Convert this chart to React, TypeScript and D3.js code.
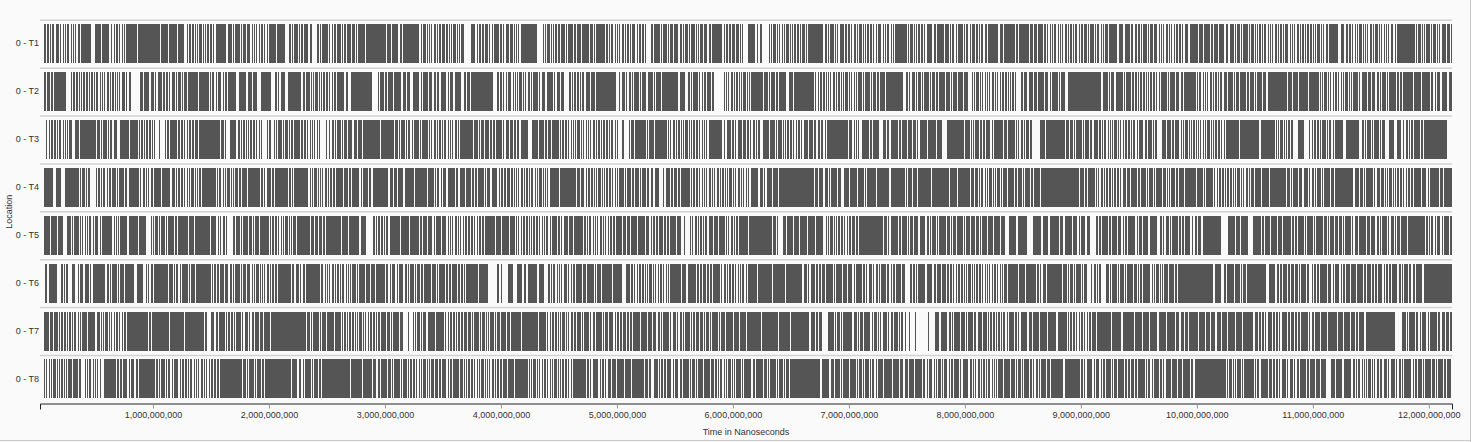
import React, { useEffect, useRef } from 'react';
import * as d3 from 'd3';

// run lengths are busy / idle durations in units of 10,000,000 ns, alternating
const UNIT = 1e7;

const locations = ['0 - T1', '0 - T2', '0 - T3', '0 - T4', '0 - T5', '0 - T6', '0 - T7', '0 - T8'];
const rowStarts = [6, 6, 8, 6, 6, 7, 6, 6];

const runsT1 = [
  2,1,1,1,1,1,2,1,3,1,1,1,1,1,1,1,2,1,1,1,1,1,1,1,2,1,
  9,3,5,1,6,2,1,1,1,1,2,1,1,1,1,1,1,1,9,1,19,1,6,1,7,1,5,2,
  1,1,2,1,1,1,1,1,1,1,2,1,1,1,1,1,1,1,2,1,1,1,9,2,
  3,1,1,1,4,1,1,1,2,1,3,1,1,1,1,1,1,1,1,1,2,1,1,1,1,1,6,1,7,3,
  2,1,1,1,3,1,1,1,1,1,4,1,2,4,
  2,1,1,1,5,1,1,1,1,1,2,1,3,1,1,1,1,1,4,1,2,1,1,1,6,1,17,1,3,1,5,2,2,1,13,2,
  1,1,2,1,1,1,1,1,1,1,2,1,1,1,1,1,3,1,1,1,1,1,1,1,2,1,1,1,1,1,2,6,
  4,1,1,1,2,1,1,1,3,1,1,1,1,1,4,1,2,1,1,1,3,1,2,1,1,1,1,1,1,1,14,5,
  1,1,1,1,2,1,1,1,1,1,1,1,2,1,3,1,1,1,4,1,2,1,3,1,6,1,2,1,1,1,8,1,
  1,1,1,1,2,1,1,1,1,1,1,1,2,1,1,1,1,1,1,1,3,1,1,1,2,1,1,1,1,4,
  2,1,5,1,1,1,3,1,1,1,2,1,4,1,2,1,1,1,2,1,1,1,3,1,1,1,1,1,2,1,3,1,2,1,9,1,
  1,1,2,1,1,1,3,1,2,1,1,1,1,4,6,2,1,1,2,6,
  1,1,1,1,2,1,1,1,1,1,1,1,1,1,2,1,1,1,1,1,1,1,2,1,1,1,2,1,1,1,13,1,
  2,1,1,1,3,1,1,1,1,1,4,1,1,1,2,1,1,1,2,1,
  1,1,2,1,1,1,1,1,1,1,2,1,1,1,1,1,3,1,1,1,1,1,2,1,1,1,1,1,10,1,
  1,1,2,1,1,1,1,1,1,1,2,1,1,1,5,1,2,1,6,1,
  3,1,1,1,2,1,1,1,4,1,1,1,2,1,1,1,3,1,1,1,1,1,2,1,2,1,
  9,1,3,1,9,1,2,1,8,1,3,1,2,1,4,1,2,1,
  1,1,1,1,1,1,2,1,1,1,1,1,1,1,2,1,1,1,1,1,1,1,2,1,1,1,2,1,
  2,1,1,1,3,1,1,1,2,1,1,1,1,1,2,1,7,2,3,2,4,1,2,2,
  1,1,2,1,1,1,3,1,1,1,2,1,3,1,1,1,1,1,1,1,2,1,1,1,1,1,1,1,2,1,1,1,1,2,2,2,
  7,1,3,1,5,1,2,1,3,1,4,2,2,2,3,1,1,1,2,1,1,1,4,1,1,1,2,1,1,1,1,1,
  1,1,1,1,2,1,1,1,1,1,1,1,2,1,1,1,1,1,1,1,3,1,1,1,1,1,1,1,2,1,
  1,1,1,1,1,1,2,1,1,1,1,1,1,1,2,1,1,1,1,1,2,1,8,2,3,2,
  1,1,2,1,1,1,1,1,1,1,2,1,1,1,1,1,1,1,2,1,1,1,2,1,1,1,1,1,1,1,1,1,1,1,2,2,1,1,
  15,1,1,1,2,1,1,1,1,1,3,1,1,1,2,1,1,1,1,1,4,1,2,1,2,
];

const runsT2 = [
  2,1,2,1,2,1,10,4,1,1,2,1,1,1,1,1,
  1,1,1,1,2,1,1,1,1,1,1,1,2,1,1,1,1,1,1,1,2,1,1,1,1,1,1,1,1,1,1,1,
  3,1,1,1,2,8,2,1,5,1,
  3,1,1,1,4,1,1,1,2,1,1,1,3,1,1,1,2,1,1,1,2,1,9,1,8,1,
  1,1,2,1,1,1,3,1,1,1,2,1,7,2,6,2,3,1,4,3,9,3,2,1,1,1,4,2,12,1,2,1,3,1,
  1,1,1,1,2,1,1,1,1,1,1,1,2,1,1,1,1,1,2,1,6,1,2,3,18,5,
  1,1,3,1,2,1,4,1,6,2,2,1,3,2,5,2,1,1,4,1,3,1,2,1,2,1,5,1,1,1,3,1,6,2,2,1,2,1,19,4,
  1,1,2,1,1,1,1,1,3,1,1,1,1,1,1,1,2,1,1,1,1,1,2,1,1,1,
  4,1,1,1,3,2,5,1,1,1,3,1,2,5,1,1,1,1,2,1,1,1,1,1,2,1,4,1,3,1,17,3,
  1,1,3,1,1,1,2,1,1,1,4,1,1,1,3,2,4,1,1,1,4,1,14,1,5,2,
  2,1,1,1,4,1,1,1,1,1,2,1,3,1,2,8,
  1,1,1,1,1,1,2,1,1,1,1,1,1,1,1,1,2,1,1,1,1,1,
  10,1,3,1,1,1,3,1,2,1,6,2,4,1,17,1,
  1,1,1,1,2,1,1,1,1,1,1,1,1,1,2,1,1,1,1,1,1,1,1,1,2,1,1,1,1,1,1,1,1,1,
  3,1,1,1,4,1,1,1,2,1,2,1,4,1,15,2,2,1,1,1,3,1,
  1,1,2,1,1,1,4,1,1,1,2,1,2,1,5,1,3,1,1,1,3,1,4,1,4,3,
  1,1,1,1,2,1,1,1,1,1,
  1,1,1,1,1,1,2,1,1,1,1,1,1,1,2,1,1,1,1,1,1,1,1,1,1,4,
  2,1,3,1,4,1,2,1,5,1,3,1,1,1,5,1,1,1,3,3,28,2,
  4,1,1,1,3,1,6,1,1,1,4,1,2,1,
  1,1,1,1,2,1,1,1,1,1,1,1,1,1,2,1,1,1,1,1,
  5,1,1,1,4,1,3,1,2,1,10,1,
  1,1,2,1,1,1,1,1,1,1,2,1,1,1,1,1,1,1,2,1,
  3,1,4,1,1,1,2,1,5,1,2,1,3,1,1,1,4,1,3,1,17,1,3,1,4,1,8,1,8,1,
  1,1,1,1,2,1,1,1,1,1,1,1,2,1,1,1,1,1,1,1,2,1,1,1,1,1,
  4,1,1,1,5,1,2,1,3,1,2,1,1,1,3,1,1,1,6,1,1,1,2,1,8,1,6,1,7,1,
  2,1,1,1,3,1,5,1,3,
];

const runsT3 = [
  1,1,1,1,2,1,1,1,1,1,2,1,1,1,1,1,1,1,2,3,3,1,14,1,
  2,1,1,1,3,1,1,1,2,1,3,3,7,1,7,1,
  1,1,1,1,1,1,2,1,1,1,1,1,1,3,1,4,1,1,2,1,6,1,
  1,1,2,1,1,1,1,1,2,1,1,1,3,1,18,1,2,1,1,3,6,1,2,1,1,1,1,1,
  1,1,1,1,1,1,2,1,1,1,1,1,1,4,1,1,2,2,
  1,1,1,1,3,1,1,1,2,1,1,1,2,1,5,1,1,1,2,1,
  1,1,1,1,1,1,1,1,1,1,1,5,1,2,1,1,2,1,1,1,3,1,1,1,2,1,4,1,3,1,3,1,15,1,11,1,
  2,1,1,1,3,1,1,1,2,1,1,1,4,1,1,1,5,1,
  1,1,1,1,2,1,1,1,1,1,1,1,2,1,1,1,1,1,1,1,2,1,1,1,11,1,
  3,1,1,1,2,1,4,1,1,1,2,1,5,1,1,1,3,1,2,1,2,1,2,1,6,4,
  5,1,4,1,2,1,2,1,6,1,
  1,1,1,1,2,1,1,1,1,1,1,1,1,1,2,1,1,1,1,1,1,1,
  1,1,1,1,2,1,1,1,1,1,1,1,2,1,1,1,1,1,2,1,1,1,1,3,2,4,
  1,1,3,1,9,1,1,1,4,1,10,1,
  1,1,1,1,2,1,1,1,1,1,1,1,1,1,2,1,1,1,1,1,1,1,2,1,1,1,1,1,1,1,1,1,12,1,
  1,2,3,1,2,1,1,1,4,1,2,1,2,1,1,1,2,1,1,1,1,3,
  5,1,4,1,1,1,3,1,1,1,1,1,1,1,2,1,1,1,1,1,2,1,1,1,4,1,3,1,2,1,
  2,1,2,1,1,1,18,1,3,1,1,1,1,1,1,2,6,1,2,1,5,3,
  3,1,2,1,6,1,2,1,4,1,3,1,3,1,1,1,6,1,7,1,4,5,14,1,
  4,1,1,1,1,1,3,1,2,1,1,1,4,1,1,1,
  8,1,2,1,6,1,1,1,1,1,2,1,1,1,2,1,2,7,4,1,16,1,
  3,1,2,1,1,1,5,1,1,1,3,1,2,1,4,1,
  1,1,1,1,2,1,1,1,1,1,1,1,2,1,1,1,1,1,1,1,2,1,1,1,
  1,1,2,1,1,1,4,1,2,1,3,1,1,1,2,4,3,1,4,1,1,1,4,1,
  1,1,1,1,2,1,1,1,1,1,1,1,1,1,1,1,
  1,1,1,1,1,1,2,1,1,1,1,1,1,1,2,1,1,1,1,1,11,1,17,1,12,1,
  1,1,1,1,2,1,1,1,1,1,1,1,2,4,5,5,
  1,1,1,1,2,1,1,1,1,1,3,1,1,1,2,1,1,1,7,3,11,2,
  2,1,1,1,3,1,1,1,4,1,1,1,2,4,4,3,3,2,1,1,2,1,1,1,1,1,5,1,2,1,20,
];

const runsT4 = [
  8,2,5,3,12,1,1,1,2,1,1,1,2,5,1,1,1,1,1,1,2,1,1,1,
  2,1,3,1,1,1,4,1,2,1,9,1,1,1,2,1,1,1,1,1,2,1,6,1,7,1,3,1,
  1,1,1,1,2,1,1,1,1,1,1,1,2,1,1,1,1,1,1,1,12,1,
  1,1,2,1,1,1,1,1,2,1,1,1,1,1,2,1,2,1,4,1,10,1,2,1,1,1,4,1,1,1,11,1,2,1,1,1,12,1,
  1,1,1,1,2,1,1,1,1,1,1,1,2,1,1,1,1,1,2,1,6,1,3,1,2,1,6,1,1,1,4,1,
  2,2,13,1,3,1,2,1,5,1,8,1,10,1,5,1,1,1,2,1,1,1,3,1,6,1,2,2,4,1,4,1,
  2,1,1,1,5,1,1,1,3,1,5,1,1,1,2,1,1,1,3,1,1,1,
  1,1,1,1,1,1,2,1,1,1,1,1,1,1,2,1,1,1,1,1,2,1,1,1,1,1,1,1,8,1,14,1,
  2,1,3,1,1,1,2,1,1,1,
  1,1,1,1,2,1,1,1,1,1,1,1,2,1,1,1,1,1,1,1,
  4,1,1,1,3,1,2,1,3,1,1,1,3,1,2,1,2,2,3,4,1,1,4,1,1,1,3,1,1,1,8,1,
  1,1,1,1,2,1,1,1,1,1,1,1,1,1,2,1,1,1,1,1,2,1,1,1,1,1,1,1,1,1,2,1,1,1,1,1,2,1,1,1,1,1,
  1,1,1,2,6,1,3,1,1,1,5,1,4,1,30,1,
  2,1,4,1,3,1,1,1,5,1,2,3,4,1,6,1,5,1,1,1,7,1,11,1,12,1,1,1,3,1,4,1,11,1,
  14,1,6,1,10,1,3,1,2,1,
  1,1,2,1,1,1,1,1,2,1,1,1,1,1,2,1,1,1,3,1,5,1,
  2,1,3,1,1,1,4,1,2,1,5,1,32,1,4,1,1,1,6,1,
  1,1,1,1,2,1,1,1,1,1,2,1,1,1,1,1,2,1,1,1,3,1,2,1,5,1,2,1,
  4,1,1,1,3,1,1,1,5,1,2,1,1,1,1,1,3,1,2,1,4,1,9,1,5,1,1,1,6,1,
  1,1,1,1,2,1,1,1,1,1,2,1,1,1,1,1,1,1,2,1,1,1,1,1,2,1,1,1,2,1,
  5,1,6,1,14,1,2,1,1,1,4,1,3,1,
  4,1,1,1,2,1,1,1,3,1,1,1,5,1,2,1,16,1,
  4,1,2,1,1,1,6,1,1,1,3,1,2,1,
  1,1,1,1,2,1,1,1,1,1,1,1,2,1,1,1,1,1,2,1,1,1,
  6,1,4,1,1,1,8,1,2,1,7,
];

const runsT5 = [
  5,1,5,1,4,4,3,1,1,1,4,1,1,1,1,1,1,1,1,1,
  2,1,1,1,3,1,1,1,9,1,1,1,1,1,1,1,6,1,8,1,6,4,
  1,1,1,1,2,1,1,1,3,1,1,1,5,1,2,1,8,1,4,1,13,1,4,2,
  1,1,1,1,2,1,1,5,2,1,3,1,1,1,4,1,2,1,1,1,3,1,8,1,
  1,1,1,1,2,1,1,1,1,1,1,1,2,1,1,1,1,1,2,1,11,1,3,1,2,1,3,1,1,1,13,1,
  5,1,9,1,5,6,1,1,1,1,2,1,1,1,1,1,2,1,9,1,7,1,7,1,
  2,1,3,1,4,1,1,1,4,1,4,1,
  1,1,1,1,1,1,2,1,1,1,1,1,1,1,2,1,1,1,2,1,1,1,1,1,2,1,1,1,9,1,4,1,6,1,4,1,
  1,1,1,1,1,1,2,1,1,1,1,1,1,1,1,1,2,1,1,1,1,1,1,1,2,1,1,1,
  4,1,2,1,1,1,4,1,3,1,8,1,
  1,1,1,1,2,1,1,1,1,1,1,1,2,1,1,1,1,1,1,1,2,1,1,1,
  5,1,3,1,2,1,5,1,6,1,3,1,1,1,2,1,1,1,4,1,1,1,2,1,5,1,3,3,1,4,
  1,1,1,1,2,1,1,1,1,1,1,1,2,1,4,1,3,1,5,1,1,1,1,1,2,1,1,1,1,1,8,1,20,1,
  2,1,1,4,3,1,5,1,4,1,6,1,6,1,6,2,
  1,1,1,1,2,1,1,1,1,1,1,1,2,1,1,1,1,1,2,1,2,1,2,1,20,1,
  3,1,1,1,6,1,2,1,4,1,1,1,2,1,4,1,5,1,
  2,1,1,1,3,1,1,1,6,1,2,1,1,1,2,1,5,1,1,1,3,1,4,1,2,1,1,1,4,1,
  4,1,5,1,4,3,6,2,8,5,7,1,5,1,8,1,3,1,6,1,4,1,1,1,4,1,3,5,
  2,1,1,1,5,1,2,1,4,1,3,1,1,1,2,1,6,1,1,1,3,1,4,2,6,2,
  2,1,1,1,3,1,1,1,5,1,1,1,2,1,4,2,1,1,2,1,3,1,16,6,6,1,3,1,6,4,7,1,
  2,1,4,1,5,1,3,1,7,1,2,1,1,1,5,1,1,1,5,1,1,1,6,1,2,1,1,1,3,1,
  3,1,2,1,1,1,5,1,1,1,3,1,6,1,2,1,4,1,2,1,1,1,4,1,1,1,3,1,1,1,2,1,5,1,15,1,
  1,1,1,1,2,1,1,1,3,1,1,1,4,1,3,
];

const runsT6 = [
  2,1,7,4,1,1,1,1,2,3,3,2,1,1,3,1,4,1,1,1,11,1,
  2,1,1,1,4,1,1,1,3,1,8,2,5,3,1,1,1,1,2,1,12,1,3,1,
  1,1,2,1,1,1,5,1,1,1,3,1,13,1,1,1,1,1,2,1,3,1,3,1,
  2,1,1,1,4,1,1,1,2,1,3,1,
  1,1,1,1,2,1,1,1,1,1,1,1,2,1,1,1,1,1,2,1,11,1,2,1,3,1,1,1,2,1,12,1,2,1,1,1,
  1,1,1,1,2,1,1,1,1,1,1,1,2,1,1,1,1,1,1,1,3,1,1,1,5,1,3,1,3,1,8,1,
  2,1,1,1,3,1,1,1,4,1,2,1,1,1,3,1,1,1,2,1,2,1,6,1,3,1,1,1,5,1,1,1,
  2,1,4,1,2,1,1,1,1,1,10,1,8,8,1,2,1,5,4,4,4,2,2,1,8,2,4,4,
  1,1,1,1,2,1,1,1,1,1,1,1,3,1,1,1,1,1,2,1,5,1,2,1,6,1,1,1,
  3,1,9,1,7,4,3,1,2,1,
  1,1,1,1,2,1,1,1,1,1,1,1,2,1,1,1,1,1,1,1,2,1,1,1,1,1,1,1,
  9,1,4,1,7,1,2,1,1,1,3,1,1,1,2,1,6,1,1,1,2,1,
  1,1,1,1,2,1,1,1,1,1,1,1,2,1,1,1,8,1,12,1,10,1,14,1,
  3,1,1,1,4,1,1,1,2,1,2,1,6,1,1,1,5,1,3,1,4,1,1,1,5,1,
  2,1,1,1,3,1,1,1,2,1,1,1,4,1,2,1,1,1,2,1,4,1,2,5,1,1,
  2,1,1,1,6,1,5,1,2,1,3,1,4,1,1,1,2,1,
  1,1,1,1,2,1,1,1,1,1,1,1,2,1,1,1,1,1,1,1,2,1,1,1,1,1,
  1,1,1,1,1,1,2,1,1,1,1,1,1,1,2,1,9,1,5,1,8,1,2,1,1,1,3,1,13,1,
  3,1,1,1,2,1,1,1,4,1,1,1,2,4,1,1,2,1,1,1,1,5,
  2,1,1,1,4,1,1,1,3,1,1,1,5,1,2,1,1,1,2,1,6,1,
  1,1,1,1,2,1,1,1,1,1,3,1,4,1,2,1,30,2,5,2,2,1,6,1,4,1,1,1,2,1,17,2,5,2,
  2,1,1,1,4,1,1,1,3,1,2,1,1,1,4,1,2,2,
  1,1,2,1,1,1,6,1,3,1,1,1,4,1,1,1,2,1,3,1,4,1,5,1,2,1,3,1,
  2,1,1,1,4,1,1,1,2,1,1,1,5,1,2,1,1,1,3,1,2,1,2,1,5,2,24,
];

const runsT7 = [
  4,1,3,1,3,1,1,1,1,1,2,1,1,1,1,1,1,1,2,1,1,1,1,1,4,1,6,2,2,1,
  1,1,1,1,2,1,1,1,1,1,1,1,2,1,1,1,1,1,2,1,18,1,1,1,15,1,12,1,16,1,2,3,
  3,1,2,1,5,1,1,1,1,1,2,1,1,1,4,1,1,1,3,1,1,1,2,1,3,1,3,1,5,1,30,1,
  2,1,1,1,5,1,1,1,3,1,6,1,5,1,1,1,
  1,1,1,1,2,1,1,1,1,1,1,1,2,1,1,1,1,1,1,1,2,1,1,1,1,1,2,1,
  4,1,2,1,1,1,5,1,3,4,1,3,1,1,1,1,2,1,1,1,2,2,6,1,7,1,
  1,1,1,1,2,1,1,1,1,1,2,1,1,1,3,1,2,1,1,1,4,1,1,1,2,1,1,1,1,1,3,1,1,1,2,1,4,1,3,1,
  8,1,14,1,6,1,1,1,1,1,2,1,1,1,1,1,1,1,2,1,1,1,1,1,2,1,
  2,1,3,1,1,1,4,1,1,1,2,1,5,1,1,1,2,1,
  4,1,1,1,2,1,1,1,3,1,1,1,2,1,6,1,5,1,3,1,3,1,2,1,1,1,5,1,1,1,
  3,1,1,1,2,1,1,1,4,1,1,1,1,1,3,1,2,1,1,1,2,1,1,1,5,1,1,1,3,1,6,1,4,1,5,1,
  12,1,14,1,9,1,16,1,4,1,1,1,3,5,
  5,1,1,1,2,1,1,1,8,1,3,1,1,1,2,1,5,2,
  1,1,2,1,1,1,1,1,4,1,1,1,2,1,3,1,1,1,2,1,1,3,1,4,1,10,1,5,
  4,1,6,1,2,1,1,1,5,1,3,1,1,1,4,1,2,1,4,1,3,1,
  1,1,1,1,2,1,1,1,1,1,1,1,2,1,1,1,4,1,2,1,1,1,6,1,3,1,5,1,6,1,7,1,8,1,
  1,1,1,1,2,1,1,1,1,1,2,1,1,1,1,1,2,1,3,1,12,1,8,1,10,1,6,1,5,1,6,1,
  6,1,7,1,3,1,3,1,2,1,8,1,5,1,3,1,4,1,4,1,4,1,6,1,5,1,8,2,
  3,1,1,1,2,1,1,1,4,1,1,1,2,1,1,1,5,1,1,1,3,1,1,1,2,1,6,1,1,1,
  2,1,4,1,5,1,8,1,4,1,5,1,3,1,2,1,4,2,25,6,3,1,1,1,5,1,
  2,1,1,1,4,1,1,1,6,1,2,1,3,1,2,1,2,
];

const runsT8 = [
  1,1,1,1,1,1,1,1,2,1,1,1,1,1,1,1,1,1,1,1,3,1,4,1,2,3,
  1,1,1,1,2,1,1,1,1,1,1,1,1,3,10,1,2,1,1,1,4,1,1,1,3,1,2,1,14,1,
  1,1,1,1,3,1,1,1,2,1,1,1,4,1,1,1,2,1,
  1,1,1,1,2,1,1,1,1,1,1,1,2,1,1,1,1,1,1,1,2,1,1,1,2,1,19,1,
  2,1,1,1,4,1,1,1,3,1,2,1,22,1,4,2,2,1,1,1,5,1,1,1,3,1,2,1,24,1,9,1,8,1,2,2,2,1,5,1,
  2,1,1,1,5,1,1,1,3,1,1,1,1,1,2,1,1,1,1,1,1,1,2,1,1,1,1,1,2,1,
  3,1,1,1,4,1,1,1,2,1,5,1,2,1,1,1,
  1,1,1,1,2,1,1,1,1,1,1,1,2,1,1,1,1,1,1,1,2,1,1,1,1,1,2,1,3,1,5,1,11,1,
  1,1,1,1,2,1,1,1,1,1,1,1,2,1,1,1,1,1,1,1,2,1,1,1,1,1,1,1,2,1,1,1,1,1,11,1,
  2,1,1,1,5,1,1,1,2,1,1,1,3,1,3,1,6,1,5,1,10,1,3,1,1,3,
  3,1,1,1,2,1,1,1,4,1,1,1,3,1,2,1,5,1,1,1,2,1,1,1,4,1,5,1,3,1,
  1,1,1,1,2,1,1,1,1,1,2,1,1,1,1,1,4,1,1,1,6,1,2,1,
  6,1,2,1,1,1,5,1,1,1,3,1,1,1,2,1,26,2,6,2,2,1,4,1,1,1,5,1,5,1,
  1,1,2,1,1,1,3,1,1,1,2,1,1,1,4,1,7,1,5,1,3,1,3,1,4,1,6,1,2,1,1,1,3,1,
  1,1,1,1,2,1,1,1,3,1,1,1,2,1,4,1,1,1,5,1,2,1,
  1,1,1,1,2,1,1,1,1,1,1,1,2,1,1,1,1,1,1,1,
  4,1,5,1,3,1,1,1,2,1,1,1,4,1,2,1,1,1,2,1,1,1,4,1,2,1,11,1,13,1,
  2,1,1,1,5,1,1,1,3,1,1,1,2,1,4,1,1,1,2,1,
  5,1,2,1,1,1,3,1,1,1,6,1,1,1,2,1,1,1,4,1,2,1,1,1,5,1,4,1,3,1,6,1,2,1,27,1,
  1,1,2,1,1,1,1,1,3,1,1,1,8,1,1,1,2,1,6,1,
  3,1,1,1,2,1,1,1,4,1,1,1,3,1,1,1,2,1,5,1,2,1,4,1,3,1,4,5,3,1,5,2,6,2,
  1,1,1,1,2,1,1,1,1,1,1,1,2,1,1,1,1,1,2,1,
  2,1,3,1,1,1,4,1,1,1,2,1,1,1,6,1,1,1,2,1,3,1,1,1,5,1,2,1,1,1,4,1,2,1,3,
];

const rowRuns = [runsT1, runsT2, runsT3, runsT4, runsT5, runsT6, runsT7, runsT8];

const timeDomain = [26000000, 12200000000];
const tickValues = [1e9, 2e9, 3e9, 4e9, 5e9, 6e9, 7e9, 8e9, 9e9, 10e9, 11e9, 12e9];

const width = 1471;
const height = 442;
const font = '"Liberation Sans", Arial, sans-serif';

type Event = { location: string; start: number; end: number };

const events: Event[] = rowRuns.flatMap((runs, i) => {
  let t = rowStarts[i];
  const out: Event[] = [];
  runs.forEach((len, k) => {
    if (k % 2 === 0) out.push({ location: locations[i], start: t * UNIT, end: (t + len) * UNIT });
    t += len;
  });
  return out;
});

export default function App() {
  const axisRef = useRef<SVGGElement>(null);

  const x = d3.scaleLinear().domain(timeDomain).range([40, 1452]);
  const y = d3.scaleBand().domain(locations).range([20.3, 403.3]);

  useEffect(() => {
    const g = d3.select(axisRef.current);
    g.call(
      d3.axisBottom(x)
        .tickValues(tickValues)
        .tickFormat(d3.format(','))
        .tickSize(5)
        .tickSizeOuter(6)
    );
    g.attr('font-family', null).attr('font-size', null);
    g.select('.domain').attr('stroke', '#222');
    g.selectAll('.tick line').attr('stroke', '#999');
    g.selectAll('.tick text')
      .attr('fill', '#333')
      .style('font-family', font)
      .style('font-size', '9px');
  }, []);

  return (
    <div style={{ position: 'absolute', left: 0, top: 0 }}>
      <svg width={width} height={height} style={{ display: 'block' }}>
        <defs>
          <clipPath id="plot-clip">
            <rect x={40} y={0} width={1412} height={height} />
          </clipPath>
        </defs>
        <rect x={0} y={0} width={width} height={height} fill="#fafafa" />
        <line x1={width - 0.5} x2={width - 0.5} y1={0} y2={height} stroke="#c8c8c8" />
        <line x1={0} x2={width} y1={height - 1.5} y2={height - 1.5} stroke="#c8c8c8" />

        <g>
          {locations.map((loc) => (
            <line key={`sep-${loc}`} x1={40} x2={1452} y1={y(loc)!} y2={y(loc)!}
              stroke="#d2d2d2" strokeWidth={1.5} />
          ))}
        </g>

        <g clipPath="url(#plot-clip)" shapeRendering="crispEdges">
          {events.map((d, i) => (
            <rect key={i} x={x(d.start)} y={y(d.location)! + 4}
              width={Math.max(0.6, x(d.end) - x(d.start))} height={39} fill="#555" />
          ))}
        </g>

        <g fontFamily={font} fontSize={9} fill="#333">
          {locations.map((loc) => (
            <text key={`lab-${loc}`} x={39} y={y(loc)! + y.bandwidth() / 2 - 1}
              textAnchor="end" dy="0.35em">{loc}</text>
          ))}
          <text transform={`translate(12, ${(20.3 + 403.3) / 2}) rotate(-90)`} textAnchor="middle">Location</text>
          <text x={746} y={435} textAnchor="middle">Time in Nanoseconds</text>
        </g>

        <g ref={axisRef} transform="translate(0, 403.5)" />
      </svg>
    </div>
  );
}
